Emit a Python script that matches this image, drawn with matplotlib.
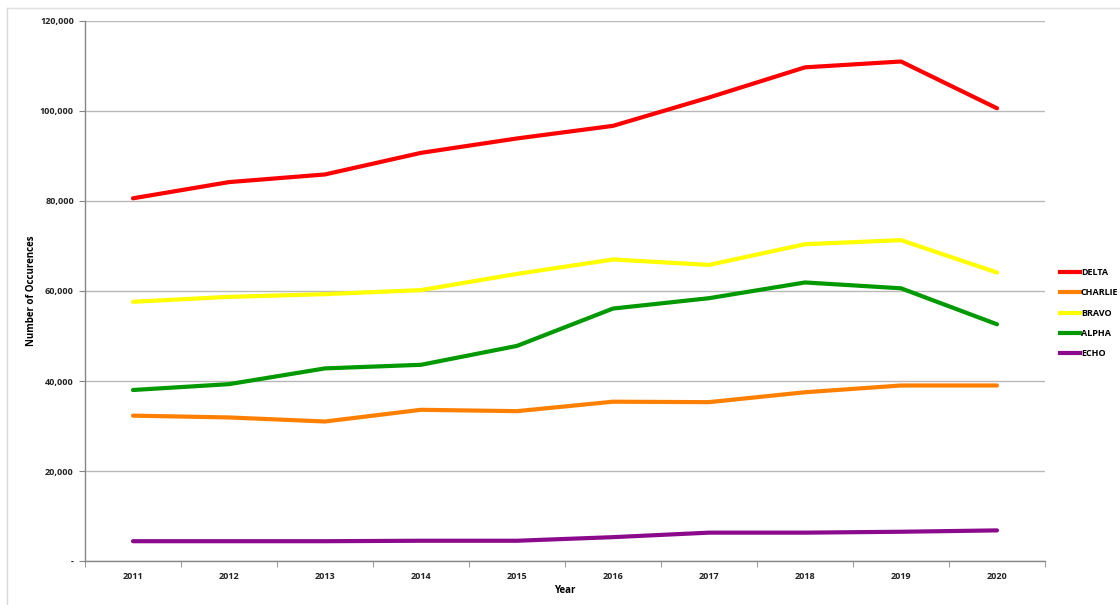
import matplotlib.pyplot as plt
from matplotlib.lines import Line2D
from matplotlib.ticker import FuncFormatter

years = ["2011", "2012", "2013", "2014", "2015", "2016", "2017", "2018", "2019", "2020"]
delta = [80600, 84200, 85900, 90700, 93900, 96700, 103000, 109700, 111000, 100600]
bravo = [57600, 58700, 59300, 60200, 63800, 67000, 65800, 70400, 71300, 64100]
alpha = [38000, 39300, 42800, 43600, 47800, 56100, 58400, 61900, 60600, 52600]
charlie = [32300, 31900, 31000, 33600, 33300, 35400, 35300, 37500, 39000, 39000]
echo = [4400, 4400, 4400, 4500, 4500, 5300, 6300, 6300, 6500, 6800]

series = [
    ("DELTA", delta, "#ff0000"),
    ("CHARLIE", charlie, "#ff8000"),
    ("BRAVO", bravo, "#ffff00"),
    ("ALPHA", alpha, "#009900"),
    ("ECHO", echo, "#8b0a8b"),
]

plt.rcParams["font.family"] = ["Open Sans", "DejaVu Sans"]

fig = plt.figure(figsize=(11.2, 6.05), dpi=100)
ax = fig.add_axes([85 / 1120, 44 / 605, 960 / 1120, 540 / 605])

x = list(range(len(years)))
# draw back to front so DELTA ends up on top like the original
for name, vals, col in reversed(series):
    ax.plot(x, vals, color=col, lw=3, solid_capstyle="round", solid_joinstyle="round")

ax.set_xlim(-0.5, len(years) - 0.5)
ax.set_ylim(0, 120000)
ax.set_yticks(range(0, 120001, 20000))
ax.yaxis.set_major_formatter(FuncFormatter(lambda v, p: "-" if v == 0 else f"{int(v):,}"))
ax.set_xticks(x)
ax.set_xticklabels(years)
ax.set_xticks([i - 0.5 for i in range(len(years) + 1)], minor=True)
ax.tick_params(axis="x", which="major", length=0, pad=8)
ax.tick_params(axis="x", which="minor", length=4, color="#868686")
ax.tick_params(axis="y", length=4, color="#868686", pad=4)
for lab in ax.get_xticklabels() + ax.get_yticklabels():
    lab.set_fontsize(6.5)
    lab.set_fontweight("bold")
    lab.set_color("#222222")

ax.grid(axis="y", color="#b8b8b8", lw=1)
ax.set_axisbelow(True)
for s in ["top", "right"]:
    ax.spines[s].set_visible(False)
for s in ["left", "bottom"]:
    ax.spines[s].set_color("#868686")
    ax.spines[s].set_linewidth(1)

ax.set_xlabel("Year", fontsize=7, fontweight="bold")
ax.xaxis.set_label_coords(0.5, -0.045)
ax.set_ylabel("Number of Occurences", fontsize=7, fontweight="bold")
ax.yaxis.set_label_coords(-0.05, 0.5)

handles = [Line2D([0], [0], color=col, lw=3) for _, _, col in series]
leg = fig.legend(handles, [n for n, _, _ in series], loc="upper left",
                 bbox_to_anchor=(1052 / 1120, 1 - 260 / 605), frameon=False,
                 handlelength=2.2, handletextpad=0.1, labelspacing=1.25,
                 prop={"size": 6.5, "weight": "bold"})

# faint sheet frame at left and top
fig.add_artist(Line2D([7 / 1120, 7 / 1120], [0, 1 - 8 / 605], transform=fig.transFigure,
                      color="#d8d8d8", lw=1))
fig.add_artist(Line2D([7 / 1120, 1], [1 - 8 / 605, 1 - 8 / 605], transform=fig.transFigure,
                      color="#e0e0e0", lw=1))

fig.savefig("out.png", dpi=100)
